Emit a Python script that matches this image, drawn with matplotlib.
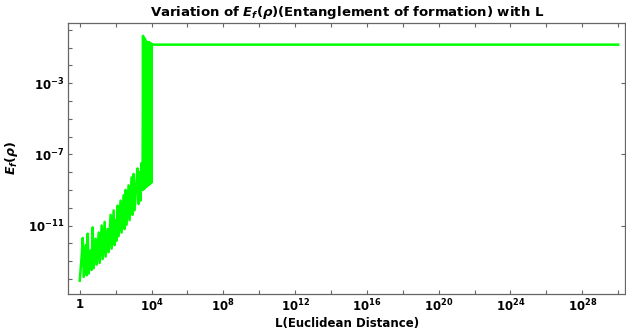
import matplotlib
matplotlib.use('Agg')
import matplotlib.pyplot as plt
from matplotlib.ticker import FixedLocator, NullFormatter

plt.rcParams['font.family'] = 'DejaVu Sans'
plt.rcParams['font.weight'] = 'bold'
plt.rcParams['mathtext.fontset'] = 'custom'
plt.rcParams['mathtext.rm'] = 'DejaVu Sans:bold'
plt.rcParams['mathtext.bf'] = 'DejaVu Sans:bold'
plt.rcParams['mathtext.it'] = 'DejaVu Sans:italic:bold'

# L (Euclidean distance) and entanglement of formation E_f(rho)
L_small = [1, 1.29, 1.47, 1.67, 2.15, 2.45, 2.78, 3.16, 4.08, 4.64,
           5.27, 6.0, 7.74, 8.8, 11.4, 12.9, 16.7, 19.0, 24.5, 27.8,
           35.9, 40.8, 52.7, 59.9, 77.4, 88, 100, 113, 129, 147,
           189, 215, 278, 316, 359, 408, 527, 599, 774, 880,
           1000, 1136, 1468, 1668, 1896, 2154, 2448, 2783, 3162]
Ef_small = [7.9e-15, 2.0e-13, 2.0e-12, 1.3e-14, 7.9e-13, 1.6e-14, 3.5e-12, 2.0e-14, 4.0e-13, 3.2e-14,
            7.9e-12, 4.0e-14, 1.8e-12, 6.3e-14, 4.0e-12, 7.9e-14, 1.0e-11, 1.3e-13, 1.6e-11, 1.8e-13,
            6.3e-12, 3.2e-13, 4.0e-11, 5.0e-13, 7.1e-11, 7.9e-13, 2.0e-11, 1.4e-12, 1.3e-10, 2.5e-12,
            2.5e-10, 4.0e-12, 5.0e-10, 6.3e-12, 1.0e-9, 1.1e-11, 1.8e-9, 2.0e-11, 5.0e-9, 4.0e-11,
            7.9e-9, 7.1e-11, 3.2e-9, 1.6e-8, 1.6e-10, 1.0e-8, 2.5e-10, 3.2e-8, 1.0e-9]

# oscillating region just below L = 10^4
L_band = [3371, 3594, 3831, 4084, 4354, 4642, 4948, 5275, 5623,
          5995, 6391, 6813, 7263, 7743, 8254, 8799, 9380, 10000]
Ef_band = [0.45, 1.1e-9, 0.35, 1.2e-9, 0.3, 1.4e-9, 0.22, 1.5e-9, 0.2,
           1.7e-9, 0.2, 1.9e-9, 0.2, 2.1e-9, 0.18, 2.3e-9, 0.17, 2.6e-9]

# saturated value for large L
L_large = [10000, 1e30]
Ef_large = [0.145, 0.145]

L = L_small + L_band + L_large
Ef = Ef_small + Ef_band + Ef_large

x_major = [1, 1e4, 1e8, 1e12, 1e16, 1e20, 1e24, 1e28]
x_labels = ['1', r'$\mathbf{10^{4}}$', r'$\mathbf{10^{8}}$', r'$\mathbf{10^{12}}$',
            r'$\mathbf{10^{16}}$', r'$\mathbf{10^{20}}$', r'$\mathbf{10^{24}}$', r'$\mathbf{10^{28}}$']
y_major = [1e-11, 1e-7, 1e-3]
y_labels = [r'$\mathbf{10^{-11}}$', r'$\mathbf{10^{-7}}$', r'$\mathbf{10^{-3}}$']

fig = plt.figure(figsize=(6.26, 3.30), dpi=100)
ax = fig.add_axes([0.109, 0.109, 0.890, 0.822])

ax.plot(L, Ef, color='#00ff00', lw=1.8)

ax.set_xscale('log')
ax.set_yscale('log')
ax.set_xlim(10 ** -0.64, 10 ** 30.4)
ax.set_ylim(10 ** -14.85, 10 ** 0.39)

ax.xaxis.set_major_locator(FixedLocator(x_major))
ax.set_xticklabels(x_labels)
ax.xaxis.set_minor_locator(FixedLocator([10.0 ** k for k in range(2, 31, 4)]))
ax.xaxis.set_minor_formatter(NullFormatter())
ax.yaxis.set_major_locator(FixedLocator(y_major))
ax.set_yticklabels(y_labels)
ax.yaxis.set_minor_locator(FixedLocator([10.0 ** k for k in range(-15, 1) if k not in (-11, -7, -3)]))
ax.yaxis.set_minor_formatter(NullFormatter())

ax.tick_params(which='both', direction='in', length=3, width=0.8, color='#666666',
               labelsize=8.5, top=True, right=True, pad=3)
ax.tick_params(which='minor', right=False)
for s in ax.spines.values():
    s.set_color('#666666')
    s.set_linewidth(0.9)

ax.set_title(r'Variation of $E_f(\rho)$(Entanglement of formation) with L',
             fontsize=9.5, fontweight='bold', pad=5)
ax.set_xlabel('L(Euclidean Distance)', fontsize=8.5, fontweight='bold')
ax.xaxis.set_label_coords(0.5, -0.085)
ax.set_ylabel(r'$E_f(\rho)$', fontsize=9)
ax.yaxis.set_label_coords(-0.087, 0.5)

fig.savefig('out.png', dpi=100)
